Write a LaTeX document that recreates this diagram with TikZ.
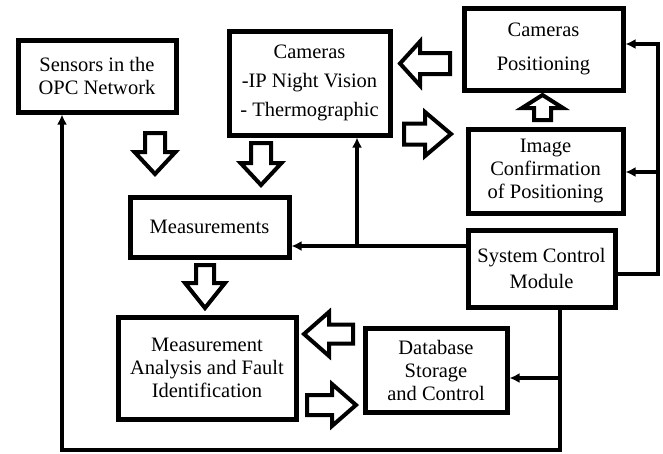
\documentclass[tikz,border=0pt]{standalone}
\usepackage{fontspec}
\setmainfont{Liberation Serif}
\usetikzlibrary{arrows.meta}
\tikzset{
  box/.style={draw=black, line width=5pt, fill=white, align=center, inner sep=2pt,
    font=\fontsize{20.5}{23}\selectfont},
  conn/.style={line width=4.5pt, -{Latex[length=10pt,width=10pt]}},
  plainline/.style={line width=4.5pt},
  blockarr/.style={draw=black, fill=white, line width=4pt, line join=miter}
}
\newcommand{\blockarrow}[7]{%
  \begin{scope}[shift={(#1,#2)},rotate=#3]
    \draw[blockarr] (0,{-#7/2}) -- ({#4-#5},{-#7/2}) -- ({#4-#5},{-#6/2}) -- (#4,0)
      -- ({#4-#5},{#6/2}) -- ({#4-#5},{#7/2}) -- (0,{#7/2}) -- cycle;
  \end{scope}}
\begin{document}
\begin{tikzpicture}[x=1pt,y=-1pt]
\useasboundingbox[fill=white] (0,0) rectangle (663,453);
% boxes
\node[box, minimum width=158pt, minimum height=72pt] (sensors) at (97,76) {Sensors in the\\OPC Network};
\node[box, minimum width=161pt, minimum height=104pt] (cams) at (309.5,83) {Cameras\\[6pt]-IP Night Vision\\[6pt]- Thermographic};
\node[box, minimum width=159pt, minimum height=82pt] (campos) at (543.5,49) {Cameras\\[11pt]Positioning};
\node[box, minimum width=155pt, minimum height=84pt] (imgconf) at (545.5,171) {Image\\Confirmation\\of Positioning};
\node[box, minimum width=159pt, minimum height=60pt] (meas) at (209.5,227) {Measurements};
\node[box, minimum width=147pt, minimum height=77pt] (sys) at (541.5,268.5) {System Control\\[3pt]Module};
\node[box, minimum width=178pt, minimum height=102pt] (analysis) at (207,368) {Measurement\\Analysis and Fault\\Identification};
\node[box, minimum width=142pt, minimum height=84pt] (db) at (436,370) {Database\\Storage\\and Control};
% block arrows
\blockarrow{155}{133}{-90}{41}{22}{41}{20}
\blockarrow{261}{143}{-90}{42}{22}{41}{20}
\blockarrow{450}{63.5}{180}{50}{20}{44}{21}
\blockarrow{404}{134}{0}{47}{26}{44}{21}
\blockarrow{542.5}{120}{90}{25}{13}{41}{17}
\blockarrow{205}{265}{-90}{43}{25}{40}{18}
\blockarrow{353}{334}{180}{49}{25}{44}{19}
\blockarrow{307}{405}{0}{49}{24}{42}{20}
% connector coordinates
\coordinate (r1) at (658,274);
\coordinate (rtop) at (658,44);
\coordinate (rmid) at (658,172);
\coordinate (l1) at (357,246);
\coordinate (b1) at (560,450);
\coordinate (b2) at (62,450);
\coordinate (d1) at (560,378);
% connectors
\draw[conn] (sys.east |- r1) -- (r1) -- (rtop) -- (campos.east |- rtop);
\draw[conn] (rmid) -- (imgconf.east |- rmid);
\draw[conn] (sys.west |- l1) -- (meas.east |- l1);
\draw[conn] (l1) -- (cams.south -| l1);
\draw[conn] (sys.south -| b1) -- (b1) -- (b2) -- (sensors.south -| b2);
\draw[conn] (d1) -- (db.east |- d1);
\end{tikzpicture}
\end{document}
